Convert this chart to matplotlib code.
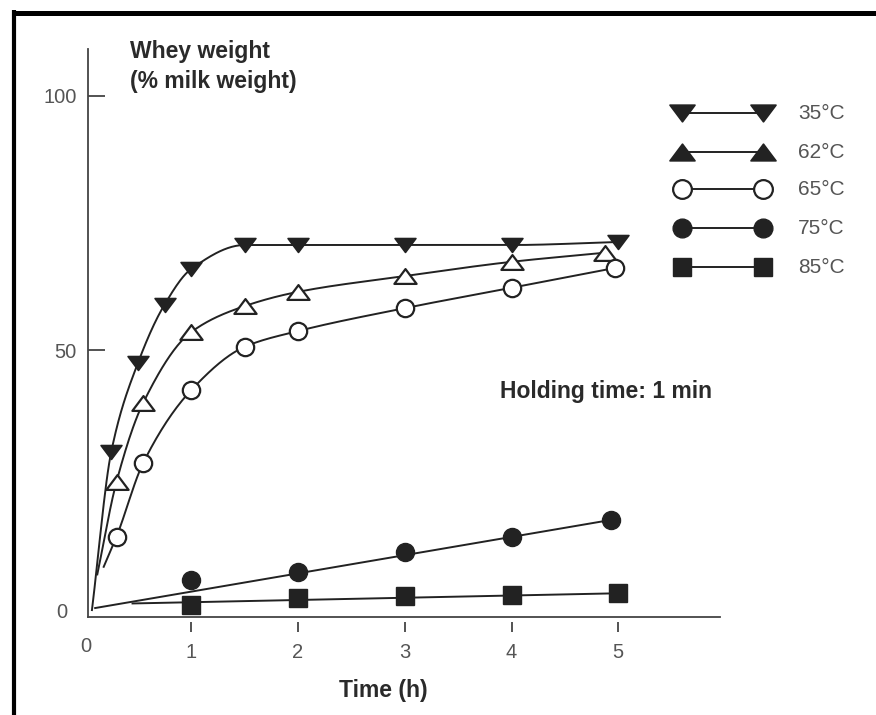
import numpy as np
import matplotlib
matplotlib.use("Agg")
import matplotlib.pyplot as plt
from matplotlib.path import Path
from matplotlib.lines import Line2D

plt.rcParams["font.family"] = ["Liberation Sans", "DejaVu Sans"]

# whey drained (% of milk weight) against time (h), one series per heating temperature
labels = ["35°C", "62°C", "65°C", "75°C", "85°C"]

t35 = [0.25, 0.5, 0.75, 1, 1.5, 2, 3, 4, 5]
w35 = [30, 47.5, 59, 66, 70.7, 70.7, 70.7, 70.7, 71.3]
start35 = (0.07, -1.0)

t62 = [0.3, 0.55, 1, 1.5, 2, 3, 4, 4.88]
w62 = [24.2, 39.7, 53.6, 58.7, 61.5, 64.6, 67.4, 69.2]
start62 = (0.12, 6.0)

t65 = [0.3, 0.55, 1, 1.5, 2, 3, 4, 4.97]
w65 = [13.4, 27.9, 42.2, 50.7, 53.8, 58.3, 62.3, 66.2]
start65 = (0.18, 7.5)

t75 = [1, 2, 3, 4, 4.93]
w75 = [4.9, 6.5, 10.4, 13.4, 16.7]
fit75 = ([0.1, 4.93], [-0.6, 16.7])

t85 = [1, 2, 3, 4, 5]
w85 = [0, 1.4, 1.8, 2.0, 2.4]
fit85 = ([0.45, 5.0], [0.3, 2.3])

xticks = [1, 2, 3, 4, 5]
yticks = [50, 100]

ink = "#222222"
grey = "#555555"
W, H = 876, 715


def fx(px):
    return px / W


def fy(py):
    return 1 - py / H


def pchip(x, y, xs):
    # monotone cubic through the points, for the hand-drawn looking curves
    x = np.asarray(x, float)
    y = np.asarray(y, float)
    h = np.diff(x)
    d = np.diff(y) / h
    m = np.zeros_like(y)
    m[0], m[-1] = d[0], d[-1]
    for k in range(1, len(x) - 1):
        if d[k - 1] * d[k] > 0:
            w1 = 2 * h[k] + h[k - 1]
            w2 = h[k] + 2 * h[k - 1]
            m[k] = (w1 + w2) / (w1 / d[k - 1] + w2 / d[k])
    i = np.clip(np.searchsorted(x, xs) - 1, 0, len(x) - 2)
    s = (xs - x[i]) / h[i]
    h00 = 2 * s**3 - 3 * s**2 + 1
    h10 = s**3 - 2 * s**2 + s
    h01 = -2 * s**3 + 3 * s**2
    h11 = s**3 - s**2
    return h00 * y[i] + h10 * h[i] * m[i] + h01 * y[i + 1] + h11 * h[i] * m[i + 1]


def smooth(start, t, w):
    xp = [start[0]] + list(t)
    yp = [start[1]] + list(w)
    xs = np.linspace(xp[0], xp[-1], 400)
    return xs, pchip(xp, yp, xs)


def tri(up):
    s = 1 if up else -1
    verts = [(-1, -0.667 * s), (1, -0.667 * s), (0, 0.667 * s), (-1, -0.667 * s)]
    return Path(verts, [Path.MOVETO, Path.LINETO, Path.LINETO, Path.CLOSEPOLY])


tri_down = tri(False)
tri_up = tri(True)

styles = [
    dict(marker=tri_down, ms=15, mfc=ink, mec=ink, mew=1.2),
    dict(marker=tri_up, ms=16, mfc="white", mec=ink, mew=1.6),
    dict(marker="o", ms=12.5, mfc="white", mec=ink, mew=1.6),
    dict(marker="o", ms=13, mfc=ink, mec=ink, mew=1.0),
    dict(marker="s", ms=13.5, mfc=ink, mec=ink, mew=1.0),
]

# the key draws 62°C with solid triangles
key_styles = [
    dict(marker=tri_down, ms=18, mfc=ink, mec=ink, mew=1.2),
    dict(marker=tri_up, ms=18, mfc=ink, mec=ink, mew=1.2),
    dict(marker="o", ms=13.5, mfc="white", mec=ink, mew=1.6),
    dict(marker="o", ms=13.5, mfc=ink, mec=ink, mew=1.0),
    dict(marker="s", ms=13, mfc=ink, mec=ink, mew=1.0),
]

fig = plt.figure(figsize=(W / 100, H / 100), dpi=100)
ax = fig.add_axes([fx(88), fy(617), fx(720) - fx(88), fy(49) - fy(617)])
ax.set_xlim(0.033, 5.953)
ax.set_ylim(-2.36, 109.2)

# curves and fitted lines
for start, t, w in [(start35, t35, w35), (start62, t62, w62), (start65, t65, w65)]:
    xs, ys = smooth(start, t, w)
    ax.plot(xs, ys, color=ink, lw=1.4, zorder=2)
ax.plot(fit75[0], fit75[1], color=ink, lw=1.4, zorder=2)
ax.plot(fit85[0], fit85[1], color=ink, lw=1.4, zorder=2)

for (t, w), st in zip([(t35, w35), (t62, w62), (t65, w65), (t75, w75), (t85, w85)], styles):
    ax.plot(t, w, ls="none", zorder=3, clip_on=False, **st)

# axes
for side in ["top", "right"]:
    ax.spines[side].set_visible(False)
for side in ["left", "bottom"]:
    ax.spines[side].set_linewidth(1.3)
    ax.spines[side].set_color("#444444")

ax.set_yticks(yticks)
ax.set_yticklabels([str(v) for v in yticks])
ax.tick_params(axis="y", direction="in", length=12, width=1.3, color="#444444",
               labelsize=14.5, labelcolor=grey, pad=8)
ax.set_xticks(xticks)
ax.set_xticklabels([str(v) for v in xticks])
ax.tick_params(axis="x", length=0, labelsize=14.5, labelcolor=grey, pad=19)
ax.vlines(xticks, -5.3, -3.3, color="#444444", lw=1.3, clip_on=False)

fig.text(fx(62), fy(613), "0", fontsize=14.5, color=grey, ha="center", va="center")
fig.text(fx(86), fy(647), "0", fontsize=14.5, color=grey, ha="center", va="center")

ax.set_xlabel("Time (h)", fontsize=16.5, fontweight="bold", color="#2a2a2a", va="center")
ax.xaxis.set_label_coords((383 - 88) / 632, (617 - 690) / 568)

fig.text(fx(130), fy(58), "Whey weight", fontsize=16.5, fontweight="bold",
         color="#2a2a2a", ha="left", va="baseline")
fig.text(fx(130), fy(88), "(% milk weight)", fontsize=16.5, fontweight="bold",
         color="#2a2a2a", ha="left", va="baseline")
fig.text(fx(500), fy(398), "Holding time: 1 min", fontsize=16.5, fontweight="bold",
         color="#2a2a2a", ha="left", va="baseline")

# key
rows = [113, 152, 189, 228, 267]
for row, label, st in zip(rows, labels, key_styles):
    fig.add_artist(Line2D([fx(682), fx(763)], [fy(row), fy(row)], color=ink, lw=1.4,
                          transform=fig.transFigure, **st))
    fig.text(fx(798), fy(row + 6), label, fontsize=15, color=grey, ha="left", va="baseline")

# frame
fig.add_artist(Line2D([fx(12), 1], [fy(12.5), fy(12.5)], color="black", lw=3.6,
                      transform=fig.transFigure, solid_capstyle="butt"))
fig.add_artist(Line2D([fx(13.5), fx(13.5)], [fy(10), 0], color="black", lw=3.0,
                      transform=fig.transFigure, solid_capstyle="butt"))

fig.savefig("out.png", dpi=100)
